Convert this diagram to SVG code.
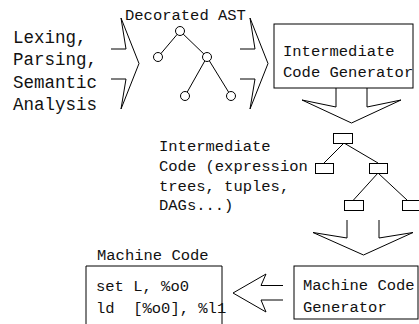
<svg xmlns="http://www.w3.org/2000/svg" width="419" height="324" viewBox="0 0 419 324">
<style>
  .ln { fill: none; stroke: #000; stroke-width: 1; }
  .nd { fill: #fff; stroke: #000; stroke-width: 1; }
  .t { font-family: "Liberation Mono", "DejaVu Sans Mono", monospace; font-size: 15.5px; fill: #111; white-space: pre; }
  .tl { font-family: "Liberation Mono", "DejaVu Sans Mono", monospace; font-size: 17.5px; fill: #111; }
</style>
<rect width="419" height="324" fill="#fff"/>

<g id="front-end-label">
  <text class="tl" x="13" y="43">Lexing,</text>
  <text class="tl" x="13" y="65">Parsing,</text>
  <text class="tl" x="13" y="88">Semantic</text>
  <text class="tl" x="13" y="110">Analysis</text>
</g>

<g id="decorated-ast">
  <text class="t" x="125" y="20">Decorated AST</text>
  <g class="ln">
    <line x1="180" y1="31" x2="158" y2="57"/>
    <line x1="180" y1="31" x2="207" y2="57"/>
    <line x1="207" y1="57" x2="185" y2="96"/>
    <line x1="207" y1="57" x2="231" y2="96"/>
  </g>
  <circle class="nd" cx="180" cy="31" r="4.5"/>
  <circle class="nd" cx="158" cy="57" r="4.5"/>
  <circle class="nd" cx="207" cy="57" r="4.5"/>
  <circle class="nd" cx="185" cy="96" r="4.5"/>
  <circle class="nd" cx="231" cy="96" r="4.5"/>
</g>

<g id="intermediate-code-generator">
  <rect class="nd" x="274" y="24" width="139" height="64"/>
  <text class="t" x="283" y="55.5">Intermediate</text>
  <text class="t" x="283" y="76.5">Code Generator</text>
</g>

<g id="intermediate-code">
  <text class="t" x="159" y="151">Intermediate</text>
  <text class="t" x="159" y="171">Code (expression</text>
  <text class="t" x="159" y="190.5">trees, tuples,</text>
  <text class="t" x="159" y="210">DAGs...)</text>
  <g class="ln">
    <line x1="344" y1="143" x2="324" y2="163"/>
    <line x1="344" y1="143" x2="378" y2="163"/>
    <line x1="378" y1="173" x2="353.5" y2="200"/>
    <line x1="378" y1="173" x2="407" y2="200"/>
  </g>
  <rect class="nd" x="333.5" y="133.5" width="19" height="10"/>
  <rect class="nd" x="315.5" y="163.5" width="18" height="10"/>
  <rect class="nd" x="369.5" y="163.5" width="18" height="10"/>
  <rect class="nd" x="344.5" y="200.5" width="19" height="10"/>
  <rect class="nd" x="402.5" y="200.5" width="19" height="10"/>
</g>

<g id="machine-code-generator">
  <rect class="nd" x="294" y="266" width="124" height="53"/>
  <text class="t" x="303" y="290">Machine Code</text>
  <text class="t" x="303" y="312">Generator</text>
</g>

<g id="machine-code">
  <text class="t" x="97" y="260">Machine Code</text>
  <polyline class="ln" points="86,325 86,266 222,266 222,325"/>
  <text class="t" x="96" y="291">set L, %o0</text>
  <text class="t" x="96" y="313" xml:space="preserve">ld  [%o0], %l1</text>
</g>

<g id="connectors" class="ln">
  <polyline points="111,49 126,49 121,18 139,63.5 121,109 126,79 111,79"/>
  <polyline points="240,49 255,49 250,18 268,63.5 250,109 255,79 240,79"/>
  <polyline points="336,88 336,107 302,100 351.5,123 401,100 367,107 367,88"/>
  <polyline points="347,220 347,238 313,232.5 363.5,255 413,232.5 379,238 379,220"/>
  <polyline points="283,285.5 261,285.5 266,274 233,293 266,312 261,300 283,300"/>
</g>
</svg>
